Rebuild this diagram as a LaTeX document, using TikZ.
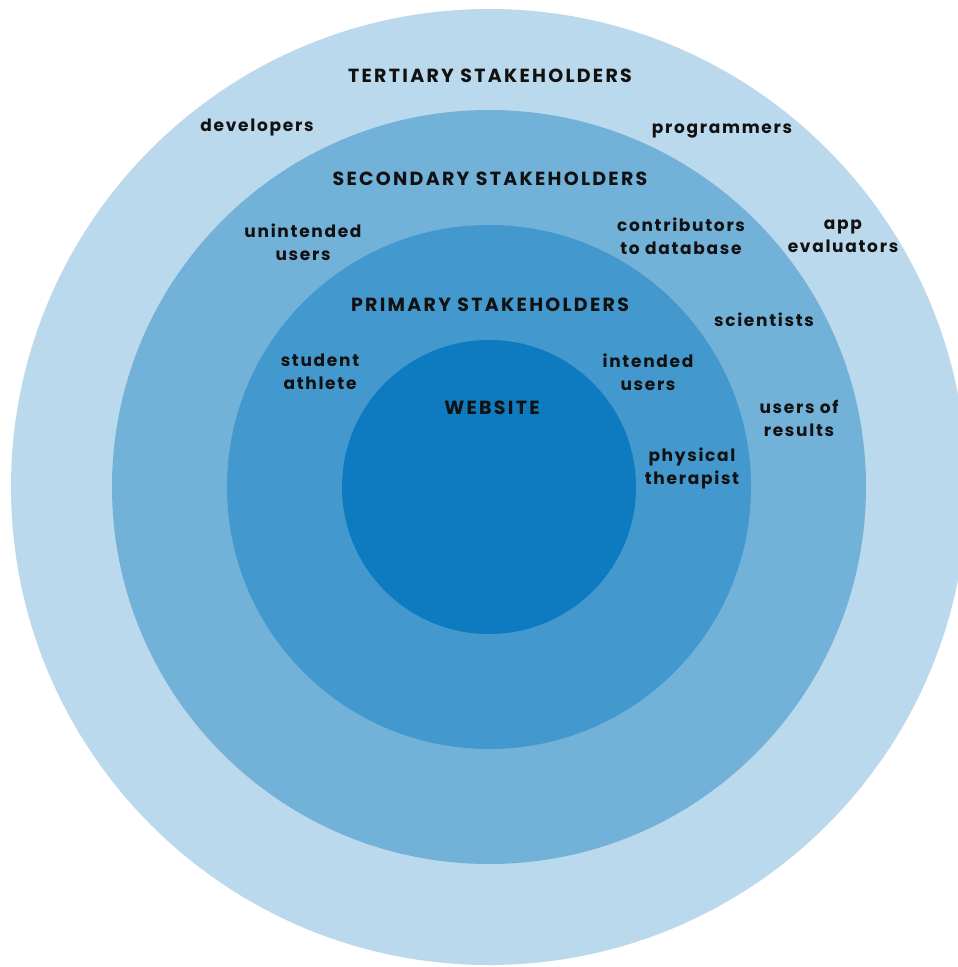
\documentclass[tikz,border=0pt]{standalone}
\usepackage{fontspec}
\setmainfont{Poppins}[LetterSpace=10]
\newfontfamily\headfont{Poppins}[LetterSpace=12]
\definecolor{ringA}{HTML}{BBD9EC}
\definecolor{ringB}{HTML}{72B1D8}
\definecolor{ringC}{HTML}{4398CD}
\definecolor{ringD}{HTML}{0E7ABF}
\definecolor{ink}{HTML}{111111}
\begin{document}
\begin{tikzpicture}[x=1pt,y=-1pt,
  lbl/.style={text=ink,align=center,inner sep=0pt,font=\fontsize{17}{23}\selectfont\bfseries},
  headlbl/.style={lbl,font=\headfont\fontsize{19}{23}\selectfont\bfseries}]
\useasboundingbox (0,0) rectangle (958,967);
\begin{scope}
\clip (0,0) rectangle (958,967);
\fill[ringA] (489,487) circle[radius=478];
\fill[ringB] (489,487) circle[radius=377];
\fill[ringC] (489,487) circle[radius=262];
\fill[ringD] (489,487) circle[radius=147];
\end{scope}
\node[headlbl] (tert) at (490,76) {TERTIARY STAKEHOLDERS};
\node[lbl] (dev) at (257,127) {developers};
\node[lbl] (prog) at (722,131) {programmers};
\node[headlbl] (sec) at (490,179) {SECONDARY STAKEHOLDERS};
\node[lbl] (unint) at (303,242) {unintended\\users};
\node[lbl] (contrib) at (681,236) {contributors\\to database};
\node[lbl] (appev) at (843,236) {app\\evaluators};
\node[headlbl] (prim) at (490,305) {PRIMARY STAKEHOLDERS};
\node[lbl] (sci) at (764,320) {scientists};
\node[lbl] (stud) at (320,372) {student\\athlete};
\node[lbl] (intu) at (648,372) {intended\\users};
\node[headlbl] (web) at (492,408) {WEBSITE};
\node[lbl] (uor) at (799,418) {users of\\results};
\node[lbl] (pt) at (692,468) {physical\\therapist};
\end{tikzpicture}
\end{document}
